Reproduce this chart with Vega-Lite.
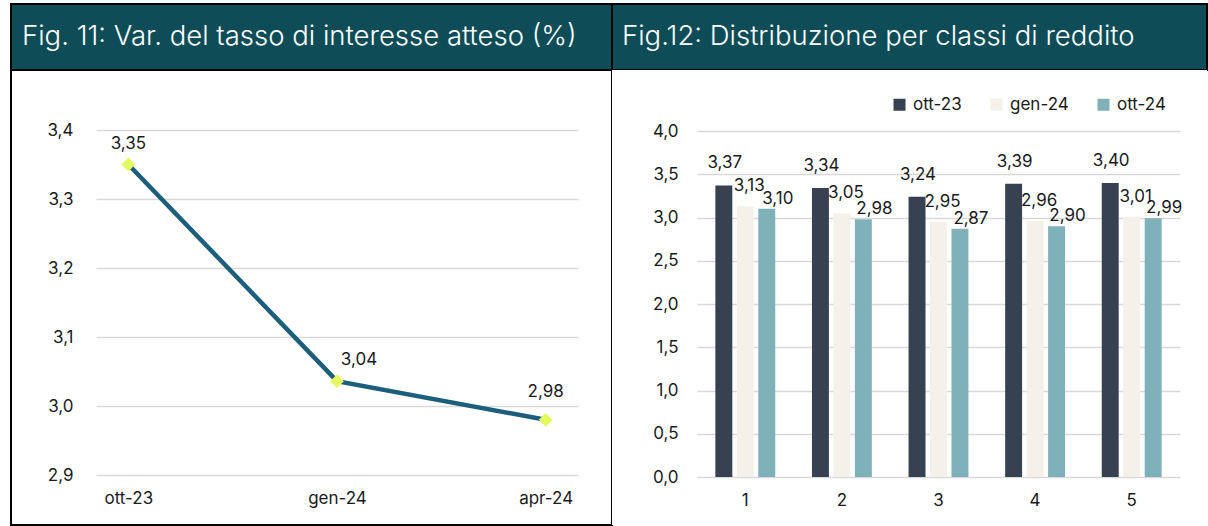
{
  "$schema": "https://vega.github.io/schema/vega-lite/v6.json",
  "background": "white",
  "padding": {"left": 10, "top": 3, "right": 0, "bottom": 0},
  "spacing": 0,
  "bounds": "flush",
  "align": "each",
  "columns": 2,
  "config": {
    "locale": {"number": {"decimal": ",", "thousands": ".", "grouping": [3], "currency": ["€", ""]}},
    "view": {"stroke": null},
    "axis": {"labelFont": "Inter", "labelFontSize": 17, "labelColor": "#1a1a1a", "title": null, "domain": false, "ticks": false, "tickSize": 0, "gridColor": "#d9d9d9", "gridWidth": 1.5},
    "legend": {"labelFont": "Inter", "labelFontSize": 17, "labelColor": "#1a1a1a"},
    "text": {"font": "Inter", "fontSize": 17, "color": "#1a1a1a"}
  },
  "concat": [
    {
      "width": 601,
      "height": 66,
      "view": {"fill": "#0e4d57", "stroke": "black", "strokeWidth": 2},
      "title": {"text": "Fig. 11: Var. del tasso di interesse atteso (%)", "anchor": "start", "orient": "top", "frame": "group", "offset": -68, "dx": 11, "baseline": "alphabetic", "color": "white", "font": "Inter", "fontWeight": 300, "fontSize": 27.5},
      "data": {"values": [{"t": "Fig. 11"}]},
      "mark": {"type": "text", "opacity": 0},
      "encoding": {"text": {"field": "t"}}
    },
    {
      "width": 595,
      "height": 66,
      "view": {"fill": "#0e4d57", "stroke": "black", "strokeWidth": 2},
      "title": {"text": "Fig.12: Distribuzione per classi di reddito", "anchor": "start", "orient": "top", "frame": "group", "offset": -68, "dx": 10, "baseline": "alphabetic", "color": "white", "font": "Inter", "fontWeight": 300, "fontSize": 27.5},
      "data": {"values": [{"t": "Fig.12"}]},
      "mark": {"type": "text", "opacity": 0},
      "encoding": {"text": {"field": "t"}}
    },
    {
      "width": 601,
      "height": 455,
      "view": {"fill": "white", "stroke": "black", "strokeWidth": 2},
      "data": {"values": [
        {"mese": "ott-23", "tasso": 3.35},
        {"mese": "gen-24", "tasso": 3.036},
        {"mese": "apr-24", "tasso": 2.98}
      ]},
      "encoding": {
        "x": {"field": "mese", "type": "ordinal", "sort": null,
          "scale": {"type": "point", "range": [85, 567], "padding": 0.155},
          "axis": {"labelAngle": 0, "offset": -50, "labelPadding": 15, "grid": false}},
        "y": {"field": "tasso", "type": "quantitative",
          "scale": {"domain": [2.9, 3.4], "range": [405, 60], "zero": false, "nice": false},
          "axis": {"values": [2.9, 3.0, 3.1, 3.2, 3.3, 3.4], "format": ".1f", "offset": -62, "labelPadding": 0, "grid": true}}
      },
      "layer": [
        {"mark": {"type": "line", "color": "#1c5f7c", "strokeWidth": 4.5}},
        {"mark": {"type": "point", "shape": "diamond", "filled": true, "color": "#e4fb5f", "opacity": 1, "size": 190}},
        {"transform": [{"filter": "datum.mese === 'ott-23'"}],
          "mark": {"type": "text", "dy": -21}, "encoding": {"text": {"field": "tasso", "type": "quantitative", "format": ".2f"}}},
        {"transform": [{"filter": "datum.mese === 'gen-24'"}],
          "mark": {"type": "text", "dy": -21, "dx": 22}, "encoding": {"text": {"field": "tasso", "type": "quantitative", "format": ".2f"}}},
        {"transform": [{"filter": "datum.mese === 'apr-24'"}],
          "mark": {"type": "text", "dy": -28}, "encoding": {"text": {"field": "tasso", "type": "quantitative", "format": ".2f"}}}
      ]
    },
    {
      "width": 595,
      "height": 455,
      "view": {"fill": "white", "stroke": null},
      "data": {"values": [
        {"classe": "1", "periodo": "ott-23", "valore": 3.37},
        {"classe": "1", "periodo": "gen-24", "valore": 3.13},
        {"classe": "1", "periodo": "ott-24", "valore": 3.10},
        {"classe": "2", "periodo": "ott-23", "valore": 3.34},
        {"classe": "2", "periodo": "gen-24", "valore": 3.05},
        {"classe": "2", "periodo": "ott-24", "valore": 2.98},
        {"classe": "3", "periodo": "ott-23", "valore": 3.24},
        {"classe": "3", "periodo": "gen-24", "valore": 2.95},
        {"classe": "3", "periodo": "ott-24", "valore": 2.87},
        {"classe": "4", "periodo": "ott-23", "valore": 3.39},
        {"classe": "4", "periodo": "gen-24", "valore": 2.96},
        {"classe": "4", "periodo": "ott-24", "valore": 2.90},
        {"classe": "5", "periodo": "ott-23", "valore": 3.40},
        {"classe": "5", "periodo": "gen-24", "valore": 3.01},
        {"classe": "5", "periodo": "ott-24", "valore": 2.99}
      ]},
      "encoding": {
        "x": {"field": "classe", "type": "nominal",
          "scale": {"range": [85, 568], "paddingInner": 0.38, "paddingOuter": 0.19},
          "axis": {"labelAngle": 0, "offset": -48, "labelPadding": 15, "grid": false}},
        "xOffset": {"field": "periodo", "type": "nominal", "sort": ["ott-23", "gen-24", "ott-24"],
          "scale": {"paddingInner": 0.21, "paddingOuter": 0}},
        "y": {"field": "valore", "type": "quantitative",
          "scale": {"domain": [0, 4], "range": [407, 61], "nice": false},
          "axis": {"values": [0, 0.5, 1, 1.5, 2, 2.5, 3, 3.5, 4], "format": ".1f", "offset": -66, "labelPadding": 0, "grid": true}}
      },
      "layer": [
        {"mark": {"type": "bar"},
          "encoding": {"color": {"field": "periodo", "type": "nominal", "sort": ["ott-23", "gen-24", "ott-24"],
            "scale": {"domain": ["ott-23", "gen-24", "ott-24"], "range": ["#374152", "#f3f1ea", "#7fb1b9"]},
            "legend": {"title": null, "orient": "none", "legendX": 880, "legendY": 92, "direction": "horizontal", "columns": 3, "symbolType": "square", "symbolSize": 144, "symbolStrokeWidth": 0, "symbolOpacity": 1, "labelOffset": 5, "columnPadding": 26, "padding": 0}}}},
        {"transform": [{"filter": "datum.periodo === 'ott-23'"}],
          "mark": {"type": "text", "dy": -22, "dx": 1}, "encoding": {"text": {"field": "valore", "type": "quantitative", "format": ".2f"}}},
        {"transform": [{"filter": "datum.periodo === 'gen-24'"}],
          "mark": {"type": "text", "dy": -20, "dx": 4}, "encoding": {"text": {"field": "valore", "type": "quantitative", "format": ".2f"}}},
        {"transform": [{"filter": "datum.periodo === 'ott-24'"}],
          "mark": {"type": "text", "dy": -10, "dx": 11}, "encoding": {"text": {"field": "valore", "type": "quantitative", "format": ".2f"}}}
      ]
    }
  ]
}
